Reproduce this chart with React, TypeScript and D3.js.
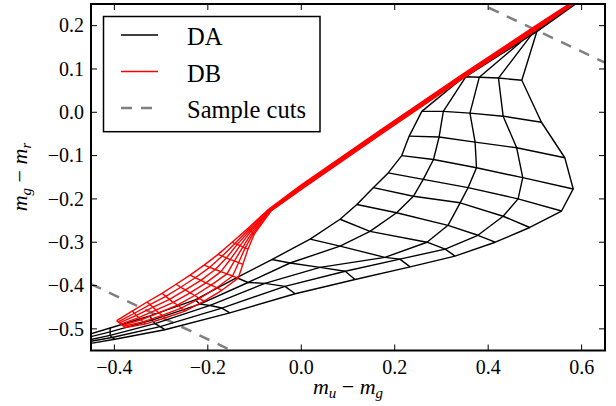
import React from "react";
import * as d3 from "d3";

type P = [number, number];

const xTicks = [-0.4, -0.2, 0.0, 0.2, 0.4, 0.6];
const yTicks = [-0.5, -0.4, -0.3, -0.2, -0.1, 0.0, 0.1, 0.2];

// DA model grid: one curve per log g, points ordered cool -> hot (same Teff index across curves)
const daA: P[] = [[0.60,0.268],[0.43,0.137],[0.347,0.081],[0.258,0.002],[0.231,-0.055],[0.215,-0.100],[0.186,-0.140],[0.154,-0.174],[0.119,-0.213],[0.083,-0.247],[0.019,-0.293],[-0.063,-0.340],[-0.138,-0.382],[-0.227,-0.433],[-0.324,-0.470],[-0.409,-0.498],[-0.495,-0.526]];
const daB: P[] = [[0.60,0.266],[0.455,0.153],[0.352,0.082],[0.304,0.002],[0.295,-0.057],[0.283,-0.109],[0.261,-0.155],[0.240,-0.194],[0.204,-0.232],[0.147,-0.275],[0.083,-0.309],[-0.024,-0.348],[-0.114,-0.393],[-0.217,-0.443],[-0.319,-0.480],[-0.409,-0.507],[-0.495,-0.530]];
const daC: P[] = [[0.60,0.264],[0.475,0.167],[0.381,0.081],[0.361,-0.002],[0.372,-0.069],[0.375,-0.128],[0.357,-0.174],[0.340,-0.209],[0.314,-0.261],[0.269,-0.300],[0.179,-0.335],[0.040,-0.358],[-0.078,-0.395],[-0.195,-0.446],[-0.313,-0.488],[-0.409,-0.515],[-0.495,-0.535]];
const daD: P[] = [[0.60,0.262],[0.492,0.178],[0.422,0.079],[0.432,-0.009],[0.461,-0.082],[0.474,-0.151],[0.464,-0.200],[0.432,-0.240],[0.378,-0.284],[0.308,-0.316],[0.211,-0.339],[0.094,-0.367],[-0.035,-0.402],[-0.170,-0.452],[-0.302,-0.495],[-0.405,-0.520],[-0.495,-0.537]];
const daE: P[] = [[0.60,0.260],[0.504,0.186],[0.472,0.074],[0.514,-0.023],[0.564,-0.105],[0.582,-0.177],[0.557,-0.228],[0.489,-0.266],[0.415,-0.300],[0.329,-0.332],[0.233,-0.357],[0.115,-0.386],[-0.013,-0.419],[-0.153,-0.463],[-0.292,-0.502],[-0.399,-0.524],[-0.495,-0.542]];

// DB model grid: one curve per log g, points ordered hot -> cool
const dbG1: P[] = [[-0.395,-0.481],[-0.362,-0.459],[-0.330,-0.438],[-0.298,-0.418],[-0.268,-0.397],[-0.238,-0.376],[-0.208,-0.353],[-0.178,-0.328],[-0.148,-0.300],[-0.114,-0.268],[-0.070,-0.224],[-0.002,-0.169],[0.168,-0.042],[0.344,0.087],[0.498,0.197],[0.62,0.283]];
const dbG2: P[] = [[-0.392,-0.484],[-0.357,-0.464],[-0.324,-0.444],[-0.290,-0.425],[-0.258,-0.404],[-0.227,-0.382],[-0.196,-0.358],[-0.169,-0.332],[-0.142,-0.303],[-0.112,-0.270],[-0.069,-0.225],[-0.001,-0.170],[0.169,-0.043],[0.345,0.086],[0.499,0.196],[0.62,0.282]];
const dbG3: P[] = [[-0.389,-0.486],[-0.353,-0.469],[-0.317,-0.450],[-0.282,-0.432],[-0.248,-0.410],[-0.215,-0.388],[-0.184,-0.363],[-0.160,-0.336],[-0.137,-0.305],[-0.110,-0.273],[-0.068,-0.225],[0.000,-0.171],[0.170,-0.044],[0.346,0.085],[0.500,0.195],[0.62,0.281]];
const dbG4: P[] = [[-0.386,-0.489],[-0.348,-0.474],[-0.311,-0.457],[-0.274,-0.439],[-0.238,-0.417],[-0.204,-0.394],[-0.172,-0.368],[-0.152,-0.340],[-0.131,-0.308],[-0.108,-0.275],[-0.067,-0.226],[0.001,-0.172],[0.171,-0.045],[0.347,0.084],[0.501,0.194],[0.62,0.280]];
const dbG5: P[] = [[-0.383,-0.492],[-0.343,-0.479],[-0.305,-0.463],[-0.265,-0.445],[-0.228,-0.423],[-0.193,-0.399],[-0.159,-0.373],[-0.143,-0.343],[-0.125,-0.311],[-0.105,-0.277],[-0.066,-0.226],[0.002,-0.173],[0.172,-0.046],[0.348,0.083],[0.502,0.193],[0.62,0.279]];
const dbG6: P[] = [[-0.380,-0.494],[-0.339,-0.484],[-0.298,-0.469],[-0.257,-0.452],[-0.218,-0.430],[-0.181,-0.405],[-0.147,-0.378],[-0.134,-0.347],[-0.120,-0.313],[-0.103,-0.280],[-0.065,-0.227],[0.003,-0.174],[0.173,-0.047],[0.349,0.082],[0.503,0.192],[0.62,0.278]];
const dbG7: P[] = [[-0.377,-0.497],[-0.334,-0.489],[-0.292,-0.475],[-0.249,-0.459],[-0.208,-0.436],[-0.170,-0.411],[-0.135,-0.383],[-0.125,-0.351],[-0.114,-0.316],[-0.101,-0.282],[-0.064,-0.227],[0.004,-0.175],[0.174,-0.048],[0.350,0.081],[0.504,0.191],[0.62,0.277]];

// sample cuts: g-r = slope*(u-g) + intercept
const cutSlopes = [-0.51, -0.51];
const cutIntercepts = [0.446, -0.626];

const legendLabels = ["DA", "DB", "Sample cuts"];

const W = 616, H = 406;
const L = 91, R = 605, T = 4, B = 350.5;
const FONT = "Liberation Serif, Tinos, Nimbus Roman, Times New Roman, DejaVu Serif";
const fontStyle = { fontFamily: FONT };

function transpose(curves: P[][]): P[][] {
  const n = curves[0].length;
  const out: P[][] = [];
  for (let i = 0; i < n; i++) out.push(curves.map((c) => c[i]));
  return out;
}

export default function App() {
  const x = d3.scaleLinear().domain([-0.45, 0.65]).range([L, R]);
  const y = d3.scaleLinear().domain([-0.55, 0.25]).range([B, T]);
  const line = d3.line<P>().x((d) => x(d[0])).y((d) => y(d[1]));

  const da = [daA, daB, daC, daD, daE];
  const db = [dbG1, dbG2, dbG3, dbG4, dbG5, dbG6, dbG7];
  const daPaths = [...da, ...transpose(da)];
  const dbPaths = [...db, ...transpose(db)];

  const fmt = (v: number) => (v < 0 ? "\u2212" : "") + Math.abs(v).toFixed(1);
  const tickLen = 6;

  return (
    <svg width={W} height={H} style={{ position: "absolute", left: 0, top: 0, background: "#fff", fontFamily: FONT }}>
      <rect x={0} y={0} width={W} height={H} fill="#fff" />
      <defs>
        <clipPath id="plot">
          <rect x={L} y={T} width={R - L} height={B - T} />
        </clipPath>
      </defs>
      <g clipPath="url(#plot)" fill="none">
        {cutSlopes.map((s, i) => {
          const pts: P[] = [[-0.45, s * -0.45 + cutIntercepts[i]], [0.65, s * 0.65 + cutIntercepts[i]]];
          return <path key={"cut" + i} d={line(pts) || ""} stroke="#808080" strokeWidth={2.5} strokeDasharray="11,9" />;
        })}
        {daPaths.map((p, i) => (
          <path key={"da" + i} d={line(p) || ""} stroke="#000" strokeWidth={1.4} strokeLinejoin="round" />
        ))}
        {dbPaths.map((p, i) => (
          <path key={"db" + i} d={line(p) || ""} stroke="#ff0000" strokeWidth={1.4} strokeLinejoin="round" />
        ))}
      </g>
      {xTicks.map((t) => (
        <g key={"xt" + t}>
          <line x1={x(t)} x2={x(t)} y1={B} y2={B - tickLen} stroke="#000" strokeWidth={1} />
          <line x1={x(t)} x2={x(t)} y1={T} y2={T + tickLen} stroke="#000" strokeWidth={1} />
          <text x={x(t)} y={373.5} fontSize={20} textAnchor="middle" style={fontStyle}>{fmt(t)}</text>
        </g>
      ))}
      {yTicks.map((t) => (
        <g key={"yt" + t}>
          <line x1={L} x2={L + tickLen} y1={y(t)} y2={y(t)} stroke="#000" strokeWidth={1} />
          <line x1={R} x2={R - tickLen} y1={y(t)} y2={y(t)} stroke="#000" strokeWidth={1} />
          <text x={84} y={y(t) + 6.8} fontSize={20} textAnchor="end" style={fontStyle}>{fmt(t)}</text>
        </g>
      ))}
      <rect x={L} y={T} width={R - L} height={B - T} fill="none" stroke="#000" strokeWidth={2} />
      <text x={348} y={394} fontSize={22} textAnchor="middle" style={fontStyle}>
        <tspan fontStyle="italic">m</tspan>
        <tspan fontStyle="italic" fontSize={15} dy={4}>u</tspan>
        <tspan dy={-4}>{" \u2212 "}</tspan>
        <tspan fontStyle="italic">m</tspan>
        <tspan fontStyle="italic" fontSize={15} dy={4}>g</tspan>
      </text>
      <text transform="translate(27,177) rotate(-90)" fontSize={22} textAnchor="middle" style={fontStyle}>
        <tspan fontStyle="italic">m</tspan>
        <tspan fontStyle="italic" fontSize={15} dy={4}>g</tspan>
        <tspan dy={-4}>{" \u2212 "}</tspan>
        <tspan fontStyle="italic">m</tspan>
        <tspan fontStyle="italic" fontSize={15} dy={4}>r</tspan>
      </text>
      <rect x={103.5} y={16.5} width={216.5} height={115.2} fill="#fff" stroke="#000" strokeWidth={1.5} />
      {legendLabels.map((lab, i) => {
        const ly = 35 + i * 36.5;
        const stroke = i === 0 ? "#000" : i === 1 ? "#ff0000" : "#808080";
        return (
          <g key={lab}>
            <line x1={121} x2={158} y1={ly} y2={ly} stroke={stroke} strokeWidth={i === 2 ? 2.5 : 1.4} strokeDasharray={i === 2 ? "11,9" : undefined} />
            <text x={187} y={ly + 10} fontSize={24.5} style={fontStyle}>{lab}</text>
          </g>
        );
      })}
    </svg>
  );
}
